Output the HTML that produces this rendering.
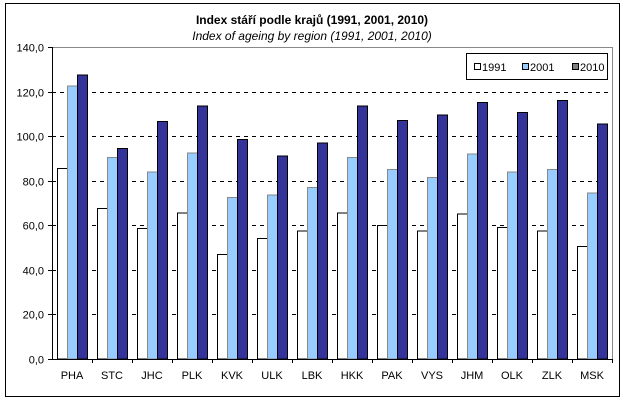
<!DOCTYPE html><html><head><style>body{margin:0;background:#fff}svg{display:block}</style></head><body>
<svg width="624" height="402" xmlns="http://www.w3.org/2000/svg" font-family="Liberation Sans, Arial, sans-serif">
<rect x="5.5" y="3.5" width="614" height="393" fill="none" stroke="#000"/>
<text x="312" y="24" text-anchor="middle" font-size="12" font-weight="bold">Index stáří podle krajů (1991, 2001, 2010)</text>
<text x="312" y="40" text-anchor="middle" font-size="12" font-style="italic">Index of ageing by region (1991, 2001, 2010)</text>
<line x1="52" y1="47.5" x2="612" y2="47.5" stroke="#888"/>
<line x1="612.5" y1="47" x2="612.5" y2="359" stroke="#888"/>
<g stroke="#000" stroke-dasharray="4,4">
<line x1="52" y1="92.5" x2="612" y2="92.5"/><line x1="52" y1="136.5" x2="612" y2="136.5"/>
<line x1="52" y1="181.5" x2="612" y2="181.5"/><line x1="52" y1="225.5" x2="612" y2="225.5"/>
<line x1="52" y1="270.5" x2="612" y2="270.5"/><line x1="52" y1="314.5" x2="612" y2="314.5"/>
</g>
<g stroke="#000">
<line x1="48" y1="47.5" x2="52" y2="47.5"/><line x1="48" y1="92.5" x2="52" y2="92.5"/><line x1="48" y1="136.5" x2="52" y2="136.5"/><line x1="48" y1="181.5" x2="52" y2="181.5"/><line x1="48" y1="225.5" x2="52" y2="225.5"/><line x1="48" y1="270.5" x2="52" y2="270.5"/><line x1="48" y1="314.5" x2="52" y2="314.5"/><line x1="48" y1="359.5" x2="52" y2="359.5"/>
</g>
<g font-size="11" text-anchor="end">
<text x="44" y="51.5">140,0</text><text x="44" y="96.5">120,0</text><text x="44" y="140.5">100,0</text><text x="44" y="185.5">80,0</text><text x="44" y="229.5">60,0</text><text x="44" y="274.5">40,0</text><text x="44" y="318.5">20,0</text><text x="44" y="363.5">0,0</text>
</g>
<g fill="#fff" stroke="#000">
<rect x="57.5" y="168.5" width="10" height="190.5"/><rect x="97.5" y="208.5" width="10" height="150.5"/><rect x="137.5" y="228.5" width="10" height="130.5"/><rect x="177.5" y="213" width="10" height="146"/><rect x="217.5" y="254.5" width="10" height="104.5"/><rect x="257.5" y="238.5" width="10" height="120.5"/><rect x="297.5" y="231" width="10" height="128"/><rect x="337.5" y="213" width="10" height="146"/><rect x="377.5" y="225.5" width="10" height="133.5"/><rect x="417.5" y="231" width="10" height="128"/><rect x="457.5" y="214" width="10" height="145"/><rect x="497.5" y="227.5" width="10" height="131.5"/><rect x="537.5" y="231" width="10" height="128"/><rect x="577.5" y="246.5" width="10" height="112.5"/>
</g>
<g fill="#99ccff" stroke="#888">
<rect x="67.5" y="86" width="10" height="273"/><rect x="107.5" y="157.5" width="10" height="201.5"/><rect x="147.5" y="172" width="10" height="187"/><rect x="187.5" y="153" width="10" height="206"/><rect x="227.5" y="197.5" width="10" height="161.5"/><rect x="267.5" y="195" width="10" height="164"/><rect x="307.5" y="187.5" width="10" height="171.5"/><rect x="347.5" y="157.5" width="10" height="201.5"/><rect x="387.5" y="169.5" width="10" height="189.5"/><rect x="427.5" y="177.5" width="10" height="181.5"/><rect x="467.5" y="154" width="10" height="205"/><rect x="507.5" y="172" width="10" height="187"/><rect x="547.5" y="169.5" width="10" height="189.5"/><rect x="587.5" y="193" width="10" height="166"/>
</g>
<g fill="#333399" stroke="#000">
<rect x="77.5" y="75" width="10" height="284"/><rect x="117.5" y="148.5" width="10" height="210.5"/><rect x="157.5" y="121.5" width="10" height="237.5"/><rect x="197.5" y="106" width="10" height="253"/><rect x="237.5" y="139.5" width="10" height="219.5"/><rect x="277.5" y="156" width="10" height="203"/><rect x="317.5" y="143" width="10" height="216"/><rect x="357.5" y="106" width="10" height="253"/><rect x="397.5" y="120.5" width="10" height="238.5"/><rect x="437.5" y="115" width="10" height="244"/><rect x="477.5" y="102.5" width="10" height="256.5"/><rect x="517.5" y="112.5" width="10" height="246.5"/><rect x="557.5" y="100.5" width="10" height="258.5"/><rect x="597.5" y="124" width="10" height="235"/>
</g>
<line x1="52.5" y1="47" x2="52.5" y2="360" stroke="#000"/>
<line x1="52" y1="359.5" x2="612" y2="359.5" stroke="#000"/>
<g stroke="#000">
<line x1="92.5" y1="359" x2="92.5" y2="363"/><line x1="132.5" y1="359" x2="132.5" y2="363"/><line x1="172.5" y1="359" x2="172.5" y2="363"/><line x1="212.5" y1="359" x2="212.5" y2="363"/><line x1="252.5" y1="359" x2="252.5" y2="363"/><line x1="292.5" y1="359" x2="292.5" y2="363"/><line x1="332.5" y1="359" x2="332.5" y2="363"/><line x1="372.5" y1="359" x2="372.5" y2="363"/><line x1="412.5" y1="359" x2="412.5" y2="363"/><line x1="452.5" y1="359" x2="452.5" y2="363"/><line x1="492.5" y1="359" x2="492.5" y2="363"/><line x1="532.5" y1="359" x2="532.5" y2="363"/><line x1="572.5" y1="359" x2="572.5" y2="363"/><line x1="612.5" y1="359" x2="612.5" y2="363"/>
</g>
<g font-size="11" text-anchor="middle">
<text x="72" y="379">PHA</text><text x="112" y="379">STC</text><text x="152" y="379">JHC</text><text x="192" y="379">PLK</text><text x="232" y="379">KVK</text><text x="272" y="379">ULK</text><text x="312" y="379">LBK</text><text x="352" y="379">HKK</text><text x="392" y="379">PAK</text><text x="432" y="379">VYS</text><text x="472" y="379">JHM</text><text x="512" y="379">OLK</text><text x="552" y="379">ZLK</text><text x="592" y="379">MSK</text>
</g>
<rect x="466.5" y="53.5" width="141" height="26" fill="#fff" stroke="#000"/>
<rect x="474.5" y="63.5" width="6" height="6" fill="#fff" stroke="#000"/><text x="482" y="71" font-size="11">1991</text>
<rect x="522.5" y="63.5" width="6" height="6" fill="#99ccff" stroke="#000"/><text x="530" y="71" font-size="11">2001</text>
<rect x="572.5" y="63.5" width="6" height="6" fill="#808080" stroke="#000"/><text x="580" y="71" font-size="11">2010</text>
</svg></body></html>
